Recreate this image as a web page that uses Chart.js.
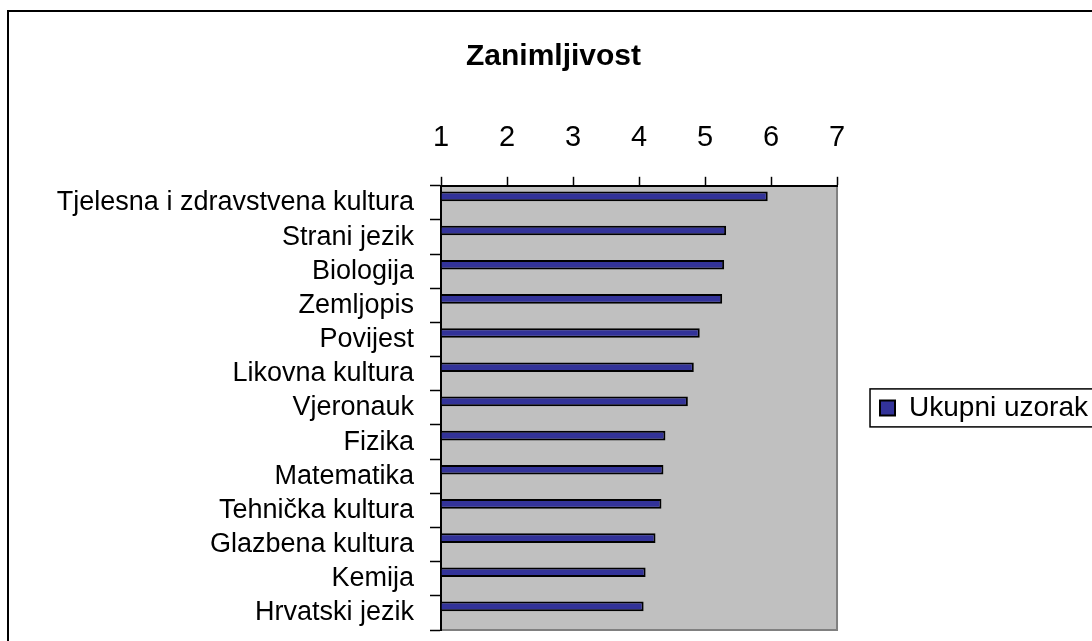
<!DOCTYPE html>
<html>
<head>
<meta charset="utf-8">
<script src="https://cdn.jsdelivr.net/npm/chart.js@4/dist/chart.umd.min.js"></script>
<style>
  html, body { margin: 0; padding: 0; background: #fff; overflow: hidden; }
  #wrap { position: absolute; left: 7px; top: 10px; border: 2px solid #000; width: 1110px; height: 700px; }
</style>
</head>
<body>
<div id="wrap"><canvas id="myChart" width="1110" height="700"></canvas></div>
<script>
var categories = ["Tjelesna i zdravstvena kultura", "Strani jezik", "Biologija", "Zemljopis", "Povijest",
    "Likovna kultura", "Vjeronauk", "Fizika", "Matematika", "Tehnička kultura", "Glazbena kultura",
    "Kemija", "Hrvatski jezik"];
var ukupniUzorak = [5.95, 5.32, 5.29, 5.26, 4.92, 4.83, 4.74, 4.40, 4.37, 4.34, 4.25, 4.10, 4.07];
// excel leaves room for a second (empty) series, so the bars sit in the top half of each band
var emptySeries = [null, null, null, null, null, null, null, null, null, null, null, null, null];
var scaleMin = 1;
var scaleMax = 7;

var fontFamily = 'Arial, "Liberation Sans", sans-serif';

var plotBackground = {
    id: 'plotBackground',
    beforeDraw: function(chart) {
        var a = chart.chartArea;
        var c = chart.ctx;
        c.save();
        c.fillStyle = '#C0C0C0';
        c.fillRect(a.left, a.top, a.right - a.left, a.bottom - a.top);
        c.strokeStyle = '#808080';
        c.lineWidth = 2;
        c.beginPath();
        c.moveTo(a.right, a.top);
        c.lineTo(a.right, a.bottom);
        c.lineTo(a.left, a.bottom);
        c.stroke();
        c.restore();
    }
};

var legendBorder = {
    id: 'legendBorder',
    afterDraw: function(chart) {
        var hit = chart.legend.legendHitBoxes[0];
        if (!hit) return;
        var c = chart.ctx;
        c.save();
        c.strokeStyle = '#000';
        c.lineWidth = 1.5;
        c.strokeRect(hit.left - 10, hit.top - 5, hit.width + 25, hit.height + 10);
        c.restore();
    }
};

var ctx = document.getElementById("myChart").getContext('2d');
var myChart = new Chart(ctx, {
    type: 'bar',
    data: {
        labels: categories,
        datasets: [{
            label: 'Ukupni uzorak',
            data: ukupniUzorak,
            base: scaleMin,
            backgroundColor: '#333399',
            borderColor: '#000000',
            borderWidth: 2,
            categoryPercentage: 0.76,
            barPercentage: 0.74
        }, {
            label: '',
            data: emptySeries,
            base: scaleMin,
            backgroundColor: '#993366',
            categoryPercentage: 0.76,
            barPercentage: 0.74
        }]
    },
    options: {
        indexAxis: 'y',
        responsive: false,
        animation: false,
        layout: {
            padding: { left: 0, right: 21, top: 0, bottom: 82 }
        },
        scales: {
            x: {
                position: 'top',
                min: scaleMin,
                max: scaleMax,
                ticks: {
                    stepSize: 1,
                    color: '#000',
                    padding: 21,
                    font: { family: fontFamily, size: 29 }
                },
                grid: {
                    drawOnChartArea: false,
                    tickLength: 9,
                    tickWidth: 1.5,
                    tickColor: '#000'
                },
                border: { color: '#000', width: 2 }
            },
            y: {
                ticks: {
                    autoSkip: false,
                    color: '#000',
                    padding: 16,
                    font: { family: fontFamily, size: 27 }
                },
                grid: {
                    offset: true,
                    drawOnChartArea: false,
                    tickLength: 11,
                    tickWidth: 1.5,
                    tickColor: '#000'
                },
                border: { color: '#000', width: 2 },
                afterFit: function(scale) {
                    scale.width = 432;
                }
            }
        },
        plugins: {
            title: {
                display: true,
                text: 'Zanimljivost',
                color: '#000',
                font: { family: fontFamily, size: 30, weight: 'bold' },
                padding: { top: 27, bottom: 25 }
            },
            legend: {
                position: 'right',
                fullSize: false,
                labels: {
                    color: '#000',
                    boxWidth: 15,
                    boxHeight: 15,
                    padding: 43,
                    font: { family: fontFamily, size: 28 },
                    filter: function(item) { return item.text !== ''; }
                }
            },
            tooltip: { enabled: false }
        }
    },
    plugins: [plotBackground, legendBorder]
});
</script>
</body>
</html>
